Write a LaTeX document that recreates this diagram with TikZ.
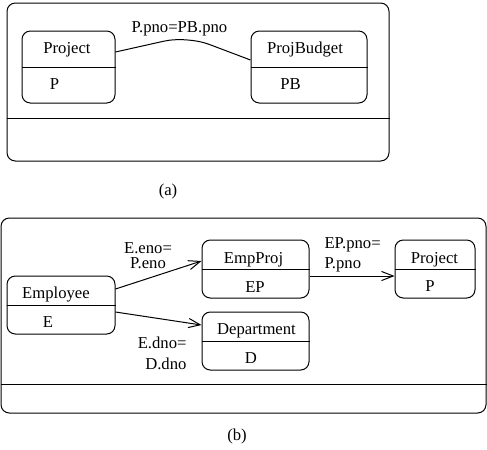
\documentclass[tikz,border=0pt]{standalone}
\usepackage{fontspec}
\setmainfont{Liberation Serif}
\usetikzlibrary{positioning,calc,arrows.meta}

\begin{document}
\begin{tikzpicture}[x=0.6pt, y=-0.6pt, font=\fontsize{10}{12}\selectfont, line width=0.6pt,
    frame/.style={draw, rectangle, rounded corners=5pt, inner sep=0pt},
    relbox/.style={draw, rectangle, rounded corners=5pt, inner sep=0pt, minimum height=34.8pt},
    txt/.style={anchor=base, inner sep=0pt},
    joinarrow/.style={-{Straight Barb[length=7pt,width=5.5pt]}}]
    \useasboundingbox (0,0) rectangle (487,449);

    % (a)
    \node[frame, minimum width=229.2pt, minimum height=94.8pt] (frameA) at (198,82) {};
    \draw (frameA.west |- 0,118) -- (frameA.east |- 0,118);

    \node[relbox, minimum width=55.8pt, minimum height=43.2pt] (projA) at (68.5,67) {};
    \draw (projA.west) -- (projA.east);
    \node[txt] (projAT) at (67,53) {Project};
    \node[txt] (projAV) at (54.5,89) {P};

    \node[relbox, minimum width=69.6pt, minimum height=43.2pt] (budget) at (309,67) {};
    \draw (budget.west) -- (budget.east);
    \node[txt] (budgetT) at (305,53) {ProjBudget};
    \node[txt] (budgetV) at (290.5,89) {PB};

    \coordinate (peak) at (187,36);
    \draw[rounded corners=14pt] ($(projA.east)+(0,-15)$) -- (peak) -- ($(budget.west)+(0,-7)$);
    \node[txt] (pnoA) at (179.5,32) {P.pno=PB.pno};

    \node[txt] (capA) at (168,195) {(a)};

    % (b)
    \node[frame, minimum width=291pt, minimum height=117pt] (frameB) at (243.5,315.5) {};
    \draw (frameB.west |- 0,384) -- (frameB.east |- 0,384);

    \node[relbox, minimum width=64.8pt] (emp) at (61,305) {};
    \draw (emp.west) -- (emp.east);
    \node[txt] (empT) at (56,298) {Employee};
    \node[txt] (empV) at (48,327) {E};

    \node[relbox, minimum width=64.2pt] (empproj) at (255.5,269) {};
    \draw (empproj.west) -- (empproj.east);
    \node[txt] (empprojT) at (253.5,263) {EmpProj};
    \node[txt] (empprojV) at (255,292) {EP};

    \node[relbox, minimum width=48pt] (projB) at (435,269) {};
    \draw (projB.west) -- (projB.east);
    \node[txt] (projBT) at (434.5,263) {Project};
    \node[txt] (projBV) at (430,291) {P};

    \node[relbox, minimum width=64.2pt] (dept) at (255.5,341) {};
    \draw (dept.west) -- (dept.east);
    \node[txt] (deptT) at (256.5,334) {Department};
    \node[txt] (deptV) at (251,363) {D};

    \draw[joinarrow] ($(emp.east)+(0,-16)$) -- ($(empproj.west)+(0,-8)$);
    \draw[joinarrow] ($(emp.east)+(0,7)$) -- ($(dept.west)+(0,-16)$);
    \draw[joinarrow] ($(empproj.east)+(0,7)$) -- ($(projB.west)+(0,7)$);

    \node[txt, align=center, font=\fontsize{10}{9}\selectfont] (enoB) at (148,268) {E.eno=\\P.eno};
    \node[txt, anchor=base west, align=left, font=\fontsize{10}{12}\selectfont] (pnoB) at (324,268) {EP.pno=\\P.pno};
    \node[txt, anchor=base east, align=right, font=\fontsize{10}{12.6}\selectfont] (dnoB) at (187,369) {E.dno=\\D.dno};

    \node[txt] (capB) at (237,440) {(b)};
\end{tikzpicture}
\end{document}
